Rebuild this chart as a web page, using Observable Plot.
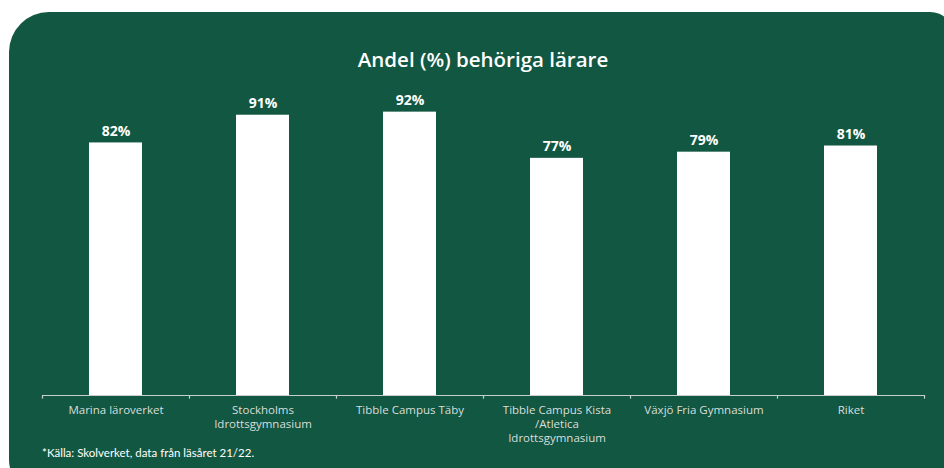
<!DOCTYPE html>
<html>
<head>
<meta charset="utf-8">
<script src="https://cdn.jsdelivr.net/npm/d3@7"></script>
<script src="https://cdn.jsdelivr.net/npm/@observablehq/plot@0.6"></script>
<style>
  body { margin: 0; background: #ffffff; }
  #wrap { position: relative; width: 944px; height: 468px; overflow: hidden; background: #ffffff; }
  #card { position: absolute; left: 9px; top: 12px; width: 945px; height: 480px; background: #125741;
          border-radius: 40px 24px 0 32px; }
  #title { position: absolute; left: 42px; width: 882px; top: 45px; text-align: center;
           font-family: "Open Sans", sans-serif; font-weight: 600; font-size: 20.5px; color: #ffffff; }
  #note { position: absolute; left: 42px; top: 446px; font-family: Lato, sans-serif;
          font-size: 11.5px; color: #ffffff; }
  #chart { position: absolute; left: 0; top: 0; }
</style>
</head>
<body>
<div id="wrap">
  <div id="card"></div>
  <div id="title">Andel (%) behöriga lärare</div>
  <div id="chart"></div>
  <div id="note">*Källa: Skolverket, data från läsåret 21/22.</div>
</div>
<script>
const categories = ["Marina läroverket", "Stockholms\nIdrottsgymnasium", "Tibble Campus Täby", "Tibble Campus Kista\n/Atletica\nIdrottsgymnasium", "Växjö Fria Gymnasium", "Riket"];
const values = [82, 91, 92, 77, 79, 81];

const data = categories.map((c, i) => ({category: c, value: values[i]}));

const W = 944, H = 468, mL = 42, mR = 20, mT = 87, mB = 73;
const step = (W - mL - mR) / categories.length;

const chart = Plot.plot({
  width: W,
  height: H,
  marginLeft: mL,
  marginRight: mR,
  marginTop: mT,
  marginBottom: mB,
  style: {background: "transparent", overflow: "visible"},
  x: {domain: categories, paddingInner: 0.64, paddingOuter: 0.32, axis: null},
  y: {domain: [0, 100], axis: null},
  marks: [
    Plot.barY(data, {x: "category", y: "value", fill: "#ffffff"}),
    Plot.ruleY([0], {stroke: "#c8cfcb", strokeWidth: 1.2}),
    Plot.ruleX(data, {x: "category", dx: -step / 2, y1: 0, y2: -1.2, stroke: "#c8cfcb", strokeWidth: 1.2}),
    Plot.ruleX([categories[categories.length - 1]], {x: d => d, dx: step / 2, y1: 0, y2: -1.2, stroke: "#c8cfcb", strokeWidth: 1.2}),
    Plot.text(data, {x: "category", y: "value", text: d => `${d.value}%`, dy: -7, lineAnchor: "bottom",
      fill: "#ffffff", fontSize: 14, fontWeight: 700, fontFamily: "'Open Sans', sans-serif"}),
    Plot.text(data, {x: "category", y: 0, text: "category", dy: 8, lineAnchor: "top", lineHeight: 1.25,
      fill: "#d9dedb", fontSize: 11.5, fontFamily: "'Open Sans', sans-serif"})
  ]
});
document.getElementById("chart").appendChild(chart);
</script>
</body>
</html>
